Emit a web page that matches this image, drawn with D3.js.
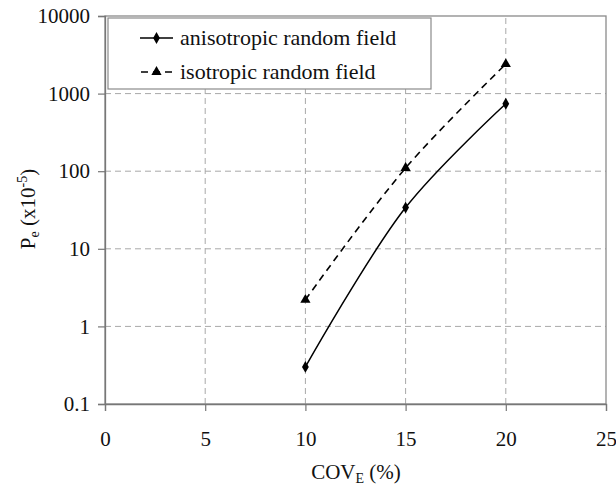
<!DOCTYPE html>
<html><head><meta charset="utf-8">
<script src="https://cdn.jsdelivr.net/npm/d3@7/dist/d3.min.js"></script>
<style>body{margin:0;background:#fff}svg{display:block}</style>
</head><body>
<script>
const covE = [10, 15, 20];
const anisotropic = [0.3, 34, 740];
const isotropic = [2.2, 110, 2400];
const xTicks = [0, 5, 10, 15, 20, 25];
const yTicks = [0.1, 1, 10, 100, 1000, 10000];
const seriesNames = ["anisotropic random field", "isotropic random field"];

const FONT = "Liberation Serif";
const W = 616, H = 486;
const m = {l:105, r:10, t:16, b:82};
const svg = d3.select("body").append("svg").attr("width", W).attr("height", H);
const x = d3.scaleLinear().domain([0,25]).range([m.l, W-m.r]);
const y = d3.scaleLog().domain([0.1,10000]).range([H-m.b, m.t]);

const g = svg.append("g");
// grid
g.selectAll(".hg").data(yTicks.slice(1,-1)).join("line")
  .attr("x1", x(0)).attr("x2", x(25)).attr("y1", d=>y(d)).attr("y2", d=>y(d))
  .attr("stroke","#a8a8a8").attr("stroke-dasharray","6,4").attr("stroke-width",1);
g.selectAll(".vg").data(xTicks.slice(1,-1)).join("line")
  .attr("y1", y(0.1)).attr("y2", y(10000)).attr("x1", d=>x(d)).attr("x2", d=>x(d))
  .attr("stroke","#a8a8a8").attr("stroke-dasharray","6,4").attr("stroke-width",1);
// frame
g.append("rect").attr("x", x(0)).attr("y", y(10000)).attr("width", x(25)-x(0)).attr("height", y(0.1)-y(10000))
  .attr("fill","none").attr("stroke","#8a8a8a").attr("stroke-width",1.3);

// axes
const xAxis = d3.axisBottom(x).tickValues(xTicks).tickSize(7).tickPadding(20).tickFormat(d3.format("d"));
const yAxis = d3.axisLeft(y).tickValues(yTicks).tickSize(7).tickPadding(8).tickFormat(d=>String(d));
const gx = svg.append("g").attr("transform",`translate(0,${y(0.1)})`).call(xAxis);
const gy = svg.append("g").attr("transform",`translate(${x(0)},0)`).call(yAxis);
[gx,gy].forEach(a=>{
  a.attr("font-family", FONT).attr("font-size", 21);
  a.select(".domain").attr("stroke","#777").attr("stroke-width",1.3);
  a.selectAll(".tick line").attr("stroke","#777").attr("stroke-width",1.2);
  a.selectAll(".tick text").style("font-family",FONT).style("font-size","21px").attr("fill","#111");
});

// series
const line = d3.line().x(d=>x(d[0])).y(d=>y(d[1])).curve(d3.curveCatmullRom.alpha(0.5));
const aData = covE.map((c,i)=>[c, anisotropic[i]]);
const iData = covE.map((c,i)=>[c, isotropic[i]]);
svg.append("path").datum(iData).attr("d", line).attr("fill","none").attr("stroke","#000").attr("stroke-width",1.6).attr("stroke-dasharray","7,5");
svg.append("path").datum(aData).attr("d", line).attr("fill","none").attr("stroke","#000").attr("stroke-width",1.5);
const diamond = d3.symbol().type(d3.symbolDiamond).size(40);
const tri = d3.symbol().type(d3.symbolTriangle).size(45);
svg.selectAll(".dm").data(aData).join("path").attr("d", diamond).attr("transform", d=>`translate(${x(d[0])},${y(d[1])})`).attr("fill","#000");
svg.selectAll(".tr").data(iData).join("path").attr("d", tri).attr("transform", d=>`translate(${x(d[0])},${y(d[1])})`).attr("fill","#000");

// legend
const lg = svg.append("g");
lg.append("rect").attr("x",108).attr("y",18).attr("width",323).attr("height",71).attr("fill","#fff").attr("stroke","#8a8a8a").attr("stroke-width",1.2);
const rows = [38, 72];
lg.append("line").attr("x1",140).attr("x2",173).attr("y1",rows[0]).attr("y2",rows[0]).attr("stroke","#000").attr("stroke-width",1.5);
lg.append("path").attr("d",diamond).attr("transform",`translate(156.5,${rows[0]})`).attr("fill","#000");
lg.append("line").attr("x1",140).attr("x2",173).attr("y1",rows[1]).attr("y2",rows[1]).attr("stroke","#000").attr("stroke-width",1.6).attr("stroke-dasharray","7,5").attr("stroke-dashoffset",-1);
lg.append("path").attr("d",tri).attr("transform",`translate(156.5,${rows[1]})`).attr("fill","#000");
lg.selectAll(".lt").data(seriesNames).join("text").attr("x",180).attr("y",(d,i)=>rows[i]+7)
  .style("font-family",FONT).style("font-size","22px").attr("fill","#111").text(d=>d);

// axis titles
const xt = svg.append("text").attr("x",356).attr("y",479).attr("text-anchor","middle")
  .style("font-family",FONT).style("font-size","21px").attr("fill","#111");
xt.append("tspan").text("COV");
xt.append("tspan").attr("dy",4).style("font-size","14px").text("E");
xt.append("tspan").attr("dy",-4).text(" (%)");

const yt = svg.append("text").attr("transform","translate(35,209) rotate(-90)").attr("text-anchor","middle")
  .style("font-family",FONT).style("font-size","21px").attr("fill","#111");
yt.append("tspan").text("P");
yt.append("tspan").attr("dy",4).style("font-size","14px").text("e");
yt.append("tspan").attr("dy",-4).text(" (x10");
yt.append("tspan").attr("dy",-8).style("font-size","14px").text("-5");
yt.append("tspan").attr("dy",8).text(")");
</script>
</body></html>
